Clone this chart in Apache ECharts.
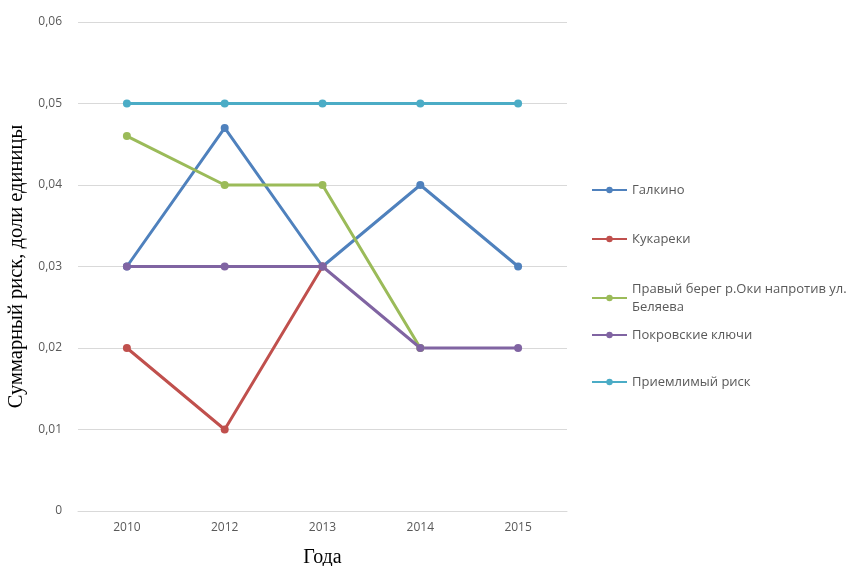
<!DOCTYPE html>
<html>
<head>
<meta charset="utf-8">
<script src="https://cdn.jsdelivr.net/npm/echarts@6/dist/echarts.min.js"></script>
<style>
  html, body { margin: 0; padding: 0; background: #fff; }
  #chart { width: 853px; height: 566px; }
</style>
</head>
<body>
<div id="chart"></div>
<script>
// Years on the category axis
const years = ['2010', '2012', '2013', '2014', '2015'];

// Total risk per site, fractions of unity
const galkino    = [0.03, 0.047, 0.03, 0.04, 0.03];
const kukareki   = [0.02, 0.01, 0.03, null, null];
const pravyBereg = [0.046, 0.04, 0.04, 0.02, null];
const pokrovskie = [0.03, 0.03, 0.03, 0.02, 0.02];
const acceptable = [0.05, 0.05, 0.05, 0.05, 0.05];

const seriesNames = [
  'Галкино',
  'Кукареки',
  'Правый берег р.Оки напротив ул. Беляева',
  'Покровские ключи',
  'Приемлимый риск'
];
const seriesData = [galkino, kukareki, pravyBereg, pokrovskie, acceptable];
const colors = ['#4F81BD', '#C0504D', '#9BBB59', '#8064A2', '#4BACC6'];

// Y axis ticks
const yMin = 0, yMax = 0.06, yStep = 0.01;

const textFont = '"Open Sans", "Noto Sans", sans-serif';
const serifFont = '"Liberation Serif", "DejaVu Serif", serif';

// One legend block per series so each entry sits at its own height
const legendTops = [181, 230, 280, 326, 373];
const legends = seriesNames.map((name, i) => ({
  data: [name],
  left: 591,
  top: legendTops[i],
  orient: 'vertical',
  itemWidth: 35,
  itemHeight: 8,
  itemGap: 0,
  padding: 0,
  formatter: n => n === seriesNames[2] ? 'Правый берег р.Оки напротив ул.\nБеляева' : n,
  textStyle: { fontFamily: textFont, fontSize: 13, color: '#595959', lineHeight: 18 },
  selectedMode: false
}));

const chart = echarts.init(document.getElementById('chart'), null, { renderer: 'canvas' });
chart.setOption({
  animation: false,
  backgroundColor: '#fff',
  color: colors,
  legend: legends,
  grid: { left: 78, right: 286, top: 22, bottom: 55, containLabel: false, outerBoundsMode: 'none' },
  xAxis: {
    type: 'category',
    data: years,
    boundaryGap: true,
    name: 'Года',
    nameLocation: 'middle',
    nameGap: 37,
    nameTextStyle: { fontFamily: serifFont, fontSize: 20, color: '#000' },
    axisLine: { show: true, lineStyle: { color: '#d9d9d9', width: 1 } },
    axisTick: { show: false },
    axisLabel: { fontFamily: textFont, fontSize: 12, color: '#595959', margin: 11 }
  },
  yAxis: {
    type: 'value',
    min: yMin,
    max: yMax,
    interval: yStep,
    name: 'Суммарный риск, доли единицы',
    nameLocation: 'middle',
    nameGap: 46,
    nameTextStyle: { fontFamily: serifFont, fontSize: 20.5, color: '#000' },
    axisLine: { show: false },
    axisTick: { show: false },
    splitLine: { lineStyle: { color: '#d9d9d9', width: 1 } },
    axisLabel: {
      fontFamily: textFont, fontSize: 12, color: '#595959', margin: 16,
      formatter: v => v === 0 ? '0' : v.toFixed(2).replace('.', ',')
    }
  },
  series: seriesNames.map((name, i) => ({
    name,
    type: 'line',
    data: seriesData[i],
    symbol: 'circle',
    symbolSize: 8,
    connectNulls: false,
    lineStyle: { width: 3, color: colors[i] },
    itemStyle: { color: colors[i] }
  }))
});
</script>
</body>
</html>
